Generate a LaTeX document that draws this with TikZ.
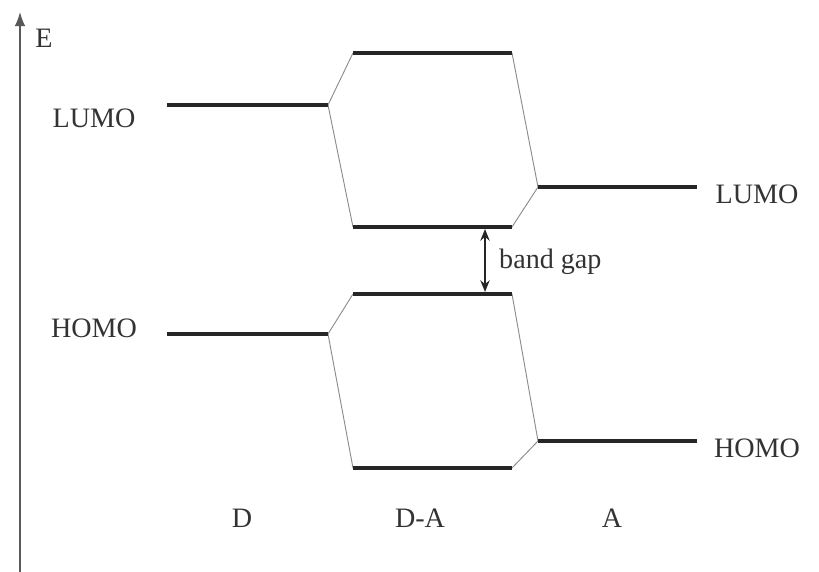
\documentclass[tikz,border=0pt]{standalone}
\usepackage{fontspec}
\setmainfont{Liberation Serif}
\usetikzlibrary{arrows.meta}
\tikzset{level/.style={line width=2.6pt, black!85},
	link/.style={line width=0.8pt, black!45},
	lbl/.style={font=\fontsize{24}{28}\selectfont, text=black!80, inner sep=0pt}}

\begin{document}
\begin{tikzpicture}[x=0.03cm,y=-0.03cm]
	\useasboundingbox (0,0) rectangle (819,572);
	% energy axis
	\coordinate (ax0) at (20,572); \coordinate (ax1) at (20,12);
	\draw[line width=1.3pt, black!65, -{Latex[length=12pt,width=9pt]}] (ax0) -- (ax1);
	\node[lbl] at (44,38) (E) {E};
	% donor levels
	\coordinate (dL1) at (167,105); \coordinate (dL2) at (328,105);
	\coordinate (dH1) at (167,334); \coordinate (dH2) at (328,334);
	% D-A levels
	\coordinate (daL1) at (353,53); \coordinate (daL2) at (512,53);
	\coordinate (daL3) at (353,227); \coordinate (daL4) at (512,227);
	\coordinate (daH1) at (353,294); \coordinate (daH2) at (512,294);
	\coordinate (daH3) at (353,468); \coordinate (daH4) at (512,468);
	% acceptor levels
	\coordinate (aL1) at (538,187); \coordinate (aL2) at (697,187);
	\coordinate (aH1) at (538,441); \coordinate (aH2) at (697,441);
	\draw[link] (daL1) -- (dL2) -- (daL3); \draw[link] (daL2) -- (aL1) -- (daL4);
	\draw[link] (daH1) -- (dH2) -- (daH3); \draw[link] (daH2) -- (aH1) -- (daH4);
	\foreach \a/\b in {dL1/dL2,dH1/dH2,daL1/daL2,daL3/daL4,daH1/daH2,daH3/daH4,aL1/aL2,aH1/aH2}
		\draw[level] (\a) -- (\b);
	% band gap
	\coordinate (gap1) at (485,229); \coordinate (gap2) at (485,292);
	\draw[line width=1.3pt, black!85, {Stealth[length=10pt,width=8pt]}-{Stealth[length=10pt,width=8pt]}] (gap1) -- (gap2);
	\node[lbl, anchor=west] at (499,262) (gap) {band gap};
	% level labels
	\node[lbl] at (94,118) (lumoD) {LUMO};
	\node[lbl] at (94,328) (homoD) {HOMO};
	\node[lbl] at (757,194) (lumoA) {LUMO};
	\node[lbl] at (757,448) (homoA) {HOMO};
	\node[lbl] at (242,518) (D) {D};
	\node[lbl] at (420,518) (DA) {D-A};
	\node[lbl] at (612,518) (A) {A};
\end{tikzpicture}
\end{document}
